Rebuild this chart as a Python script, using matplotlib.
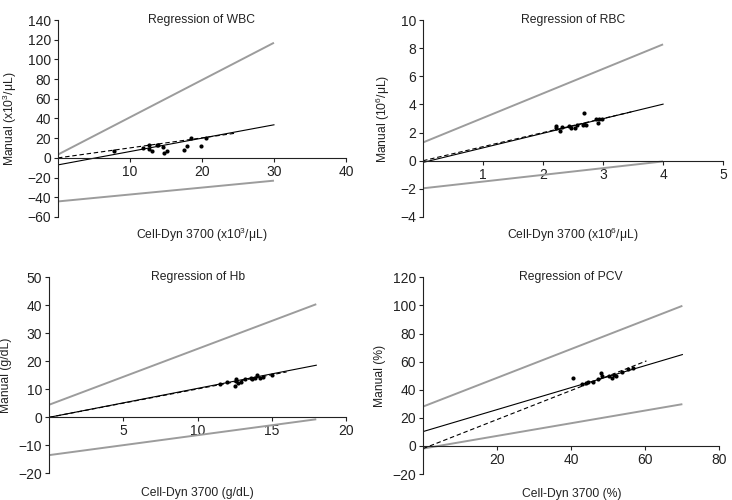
"""Regression panels: Cell-Dyn 3700 vs manual counts."""

import numpy as np
import matplotlib
matplotlib.use("Agg")
import matplotlib.pyplot as plt

plt.rcParams["font.family"] = ["Liberation Sans", "DejaVu Sans"]
plt.rcParams["mathtext.fontset"] = "custom"
plt.rcParams["mathtext.rm"] = "Liberation Sans"
plt.rcParams["mathtext.it"] = "Liberation Sans:italic"
plt.rcParams["axes.unicode_minus"] = True

# ---- data ----
wbc_x = [7.8, 11.8, 12.6, 12.7, 13.0, 13.7, 13.9, 14.6, 14.7, 15.1, 17.5, 17.9, 18.5, 19.8, 20.6]
wbc_y = [7.5, 10.5, 13.6, 9.5, 7.5, 13.6, 13.6, 10.9, 5.1, 6.8, 7.8, 11.9, 20.0, 11.9, 20.7]
wbc_reg = ([0, 30], [-7.1, 33.6])
wbc_upper = ([0, 30], [3.4, 116.9])
wbc_lower = ([0, 30], [-44.2, -23.1])
wbc_ident = ([0, 24.7], [0, 25.1])

rbc_x = [2.21, 2.22, 2.29, 2.32, 2.43, 2.47, 2.53, 2.56, 2.66, 2.68, 2.68, 2.72, 2.89, 2.92, 2.94, 2.99]
rbc_y = [2.46, 2.29, 2.10, 2.39, 2.48, 2.36, 2.34, 2.55, 2.53, 2.60, 3.38, 2.53, 2.98, 2.69, 3.00, 3.00]
rbc_reg = ([0, 4], [-0.12, 4.02])
rbc_upper = ([0, 4], [1.3, 8.27])
rbc_lower = ([0, 4], [-1.96, -0.05])
rbc_ident = ([0, 3.5], [0, 3.5])

hb_x = [11.5, 12.0, 12.5, 12.6, 12.6, 12.7, 12.9, 13.2, 13.6, 13.7, 13.9, 14.0, 14.2, 14.4, 15.0]
hb_y = [11.8, 12.6, 11.2, 13.8, 13.0, 12.1, 12.6, 13.6, 14.0, 13.6, 14.2, 15.0, 14.0, 14.3, 15.0]
hb_reg = ([0, 18], [0, 18.6])
hb_upper = ([0, 18], [4.5, 40.4])
hb_lower = ([0, 18], [-13.5, -0.7])
hb_ident = ([0, 16], [0, 16.2])

pcv_x = [40.4, 43.0, 43.9, 44.6, 46.0, 47.3, 48.0, 48.4, 50.2, 50.9, 51.6, 52.2, 53.6, 55.4, 56.7]
pcv_y = [48.2, 43.9, 45.1, 45.3, 45.3, 47.9, 52.2, 49.8, 49.8, 48.6, 50.3, 49.8, 52.9, 54.8, 55.3]
pcv_reg = ([0, 70], [10.2, 65.0])
pcv_upper = ([0, 70], [28.0, 99.7])
pcv_lower = ([0, 70], [-1.9, 29.7])
pcv_ident = ([0, 60.3], [-1.9, 60.5])

panels = [
    dict(rect=[0.0792, 0.566, 0.3934, 0.394], title="Regression of WBC",
         x=wbc_x, y=wbc_y, reg=wbc_reg, up=wbc_upper, lo=wbc_lower, ident=wbc_ident,
         xlim=(0, 40), ylim=(-60, 140), xticks=[10, 20, 30, 40], yticks=np.arange(-60, 141, 20),
         xlabel="Cell-Dyn 3700 (x10$^{3}$/μL)", ylabel="Manual (x10$^{3}$/μL)",
         xl_y=-0.092, yl_x=-0.167),
    dict(rect=[0.578, 0.566, 0.4098, 0.394], title="Regression of RBC",
         x=rbc_x, y=rbc_y, reg=rbc_reg, up=rbc_upper, lo=rbc_lower, ident=rbc_ident,
         xlim=(0, 5), ylim=(-4, 10), xticks=[1, 2, 3, 4, 5], yticks=np.arange(-4, 11, 2),
         xlabel="Cell-Dyn 3700 (x10$^{6}$/μL)", ylabel="Manual (10$^{6}$/μL)",
         xl_y=-0.092, yl_x=-0.133),
    dict(rect=[0.0673, 0.0534, 0.4053, 0.392], title="Regression of Hb",
         x=hb_x, y=hb_y, reg=hb_reg, up=hb_upper, lo=hb_lower, ident=hb_ident,
         xlim=(0, 20), ylim=(-20, 50), xticks=[5, 10, 15, 20], yticks=np.arange(-20, 51, 10),
         xlabel="Cell-Dyn 3700 (g/dL)", ylabel="Manual (g/dL)",
         xl_y=-0.10, yl_x=-0.145),
    dict(rect=[0.578, 0.052, 0.4048, 0.3934], title="Regression of PCV",
         x=pcv_x, y=pcv_y, reg=pcv_reg, up=pcv_upper, lo=pcv_lower, ident=pcv_ident,
         xlim=(0, 80), ylim=(-20, 120), xticks=[20, 40, 60, 80], yticks=np.arange(-20, 121, 20),
         xlabel="Cell-Dyn 3700 (%)", ylabel="Manual (%)",
         xl_y=-0.10, yl_x=-0.146),
]

fig = plt.figure(figsize=(7.32, 5.0), dpi=100)

for p in panels:
    ax = fig.add_axes(p["rect"])
    ax.plot(*p["up"], color="#9c9c9c", lw=1.4, solid_capstyle="butt")
    ax.plot(*p["lo"], color="#9c9c9c", lw=1.4, solid_capstyle="butt")
    ax.plot(*p["reg"], color="black", lw=0.8)
    ax.plot(*p["ident"], color="black", lw=0.8, ls=(0, (4, 2.5)))
    ax.plot(p["x"], p["y"], "o", color="black", ms=3, mew=0)

    ax.set_xlim(*p["xlim"])
    ax.set_ylim(*p["ylim"])
    ax.set_xticks(p["xticks"])
    ax.set_yticks(p["yticks"])
    ax.spines["top"].set_visible(False)
    ax.spines["right"].set_visible(False)
    ax.spines["bottom"].set_position(("data", 0))
    for s in ("left", "bottom"):
        ax.spines[s].set_linewidth(0.8)
        ax.spines[s].set_color("#222222")
    ax.tick_params(axis="both", labelsize=10, length=3, width=0.8, color="#222222",
                   pad=2, labelcolor="#222222")

    ax.text(0.5, 1.0, p["title"], transform=ax.transAxes, ha="center", va="center",
            fontsize=8.7, color="#222222")
    ax.text(0.5, p["xl_y"], p["xlabel"], transform=ax.transAxes, ha="center", va="center",
            fontsize=8.7, color="#222222")
    ax.text(p["yl_x"], 0.5, p["ylabel"], transform=ax.transAxes, ha="center", va="center",
            rotation=90, fontsize=8.7, color="#222222")

fig.savefig("out.png", dpi=100)
plt.close(fig)
